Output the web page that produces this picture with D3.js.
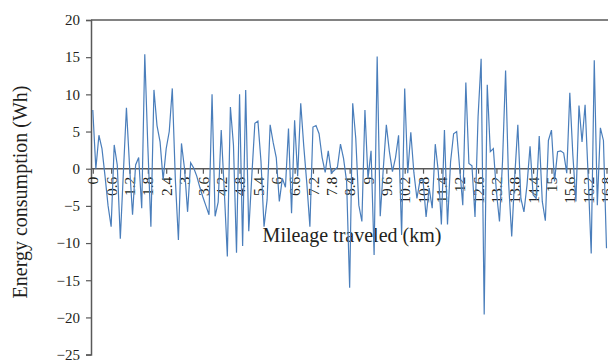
<!DOCTYPE html>
<html>
<head>
<meta charset="utf-8">
<script src="https://cdn.jsdelivr.net/npm/d3@7"></script>
<style>
  body { margin: 0; background: #fff; }
  svg text { font-family: "Liberation Serif", "DejaVu Serif", serif; fill: #231f20; }
</style>
</head>
<body>
<div id="chart"></div>
<script>
// Energy per 0.1 km step.
const mileage = d3.range(0, 169).map(i => i / 10);
const energy = [
  7.9, 0, 4.5, 2.7, -1, -5, -7.8, 3.2, 0.5, -9.4,
  -0.5, 8.2, 0.5, -6.2, 0.5, 1.5, -5.3, 15.4, 3, -7.8,
  10.6, 5.8, 3.6, -1.5, 2.7, 5.0, 10.8, -1.5, -9.6, 3.4,
  0, -5.8, 0.8, 0.1, -1, -2.5, -3.8, -5, -6.2, 10,
  -6.4, -4.5, 5.2, -3, -11.8, 8.3, 3.2, -11.3, 10, -10.4,
  10.6, -8.4, -1, 6.1, 6.4, 1, -7.8, -4.2, 5.9, 3.5,
  1.5, -4.4, -1.3, -2.5, 5.4, -6, 6.5, -1, 8.8, 3,
  -2, -7.8, 5.6, 5.8, 4.7, 1.5, -0.5, 2.4, -0.6, -0.2,
  0.2, 3.3, 1.4, -1.7, -16, 8.8, 4.1, -4.9, -7.1, 7.9,
  -1.3, 2.4, -11.6, 15.1, -6.4, 0, 5.9, 2.3, -0.4, 1.5,
  4.5, -8.9, 10.8, -0.6, 4.9, -0.5, -4, -1.6, -1.5, -6.5,
  -2.6, -5.3, 3.3, -0.4, -7.5, 5.2, -7.5, 0.9, 4.7, 5.0,
  0, -4.9, 11.6, 0.7, 0.4, -6.5, 7, 14.8, -19.6, 11.3,
  2.3, 2.7, -3.1, -7.1, 1, 13.2, -2, -9.1, -1, 5.9,
  -4, -5.8, -2.2, 3.0, -3.5, -4, 4.4, -4.4, -7.0, 3.8,
  5.2, -1.7, 2.3, 2.4, 2.1, -0.6, 10.2, 1.8, -4.4, 8.5,
  3.6, 8.6, -1, -11.4, 14.6, -4.9, 5.5, 3.8, -10.7
];
const yTicks = [20, 15, 10, 5, 0, -5, -10, -15, -20, -25];
const xLabelEvery = 6;

const width = 608, height = 362;
const axisX = 91;
const axisColor = "#595959";
const lineColor = "#4a7ebb";

const svg = d3.select("#chart").append("svg")
    .attr("width", width)
    .attr("height", height);

// category axis: one step per 0.1 km, the last label runs into the right edge
const x = d3.scaleLinear().domain([0, 168]).range([92.8, 606.5]);
const y = d3.scaleLinear().domain([-25, 20]).range([354.6, 20]);

// top border line
svg.append("line")
    .attr("x1", axisX).attr("x2", width)
    .attr("y1", y(20)).attr("y2", y(20))
    .attr("stroke", axisColor).attr("stroke-width", 1.5);

// y axis
const yAxis = svg.append("g")
    .attr("transform", `translate(${axisX},0)`)
    .call(d3.axisLeft(y).tickValues(yTicks).tickSize(5).tickPadding(6));
yAxis.select(".domain").attr("stroke", axisColor).attr("stroke-width", 1.5);
yAxis.selectAll(".tick line").attr("stroke", axisColor).attr("stroke-width", 1.2);
yAxis.selectAll(".tick text")
    .style("font-size", "15px")
    .style("font-family", "Liberation Serif, serif")
    .attr("fill", "#231f20");

// x axis sitting on zero
const xTickVals = mileage.map((m, i) => i).filter(i => i % xLabelEvery === 0);
const xAxis = svg.append("g")
    .attr("transform", `translate(0,${y(0)})`)
    .call(d3.axisBottom(x).tickValues(xTickVals).tickSize(5)
        .tickFormat(i => String(+mileage[i].toFixed(1))));
xAxis.select(".domain").remove();
xAxis.append("line")
    .attr("x1", axisX).attr("x2", width)
    .attr("stroke", axisColor).attr("stroke-width", 1.5);
xAxis.selectAll(".tick line").attr("stroke", axisColor).attr("stroke-width", 1.2);
xAxis.selectAll(".tick text")
    .attr("transform", "translate(0,8) rotate(-90)")
    .attr("x", 0).attr("y", 0).attr("dy", "0.33em")
    .attr("text-anchor", "end")
    .style("font-size", "15.5px")
    .style("font-family", "Liberation Serif, serif")
    .attr("fill", "#231f20");

// axis titles
svg.append("text")
    .attr("x", 352).attr("y", 242)
    .attr("text-anchor", "middle")
    .style("font-size", "20px")
    .text("Mileage traveled (km)");

svg.append("text")
    .attr("transform", "translate(27,192) rotate(-90)")
    .attr("text-anchor", "middle")
    .style("font-size", "20px")
    .text("Energy consumption (Wh)");

// the series
const line = d3.line()
    .x((d, i) => x(i))
    .y(d => y(d));

svg.append("path")
    .datum(energy)
    .attr("fill", "none")
    .attr("stroke", lineColor)
    .attr("stroke-width", 1.2)
    .attr("d", line);
</script>
</body>
</html>
